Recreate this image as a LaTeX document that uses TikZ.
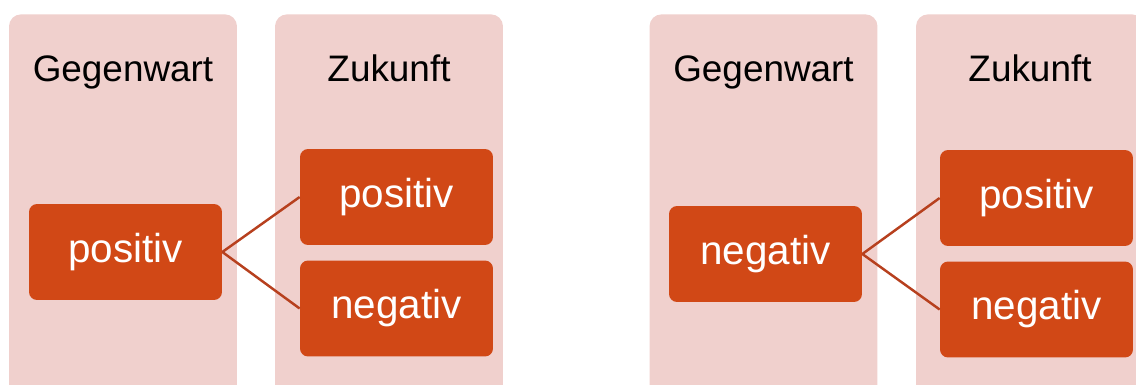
\documentclass[tikz,border=0pt]{standalone}
\usepackage{fontspec}
\setmainfont{Liberation Sans}
\usetikzlibrary{positioning}
\definecolor{panelpink}{RGB}{240,208,205}
\definecolor{boxorange}{RGB}{209,72,22}
\definecolor{linkbrown}{RGB}{183,64,30}

\begin{document}
\begin{tikzpicture}[x=0.02cm,y=-0.02cm]\tikzset{every node/.style={inner sep=0pt}, panel/.style={fill=panelpink, rounded corners=0.24cm, minimum width=4.56cm, minimum height=7.7cm, anchor=north}, title/.style={font=\fontsize{21}{25}\selectfont, anchor=base}, choice/.style={fill=boxorange, text=white, rounded corners=0.16cm, minimum width=3.86cm, minimum height=1.92cm, font=\fontsize{23}{27}\selectfont}, link/.style={draw=linkbrown, line width=1.4pt}}
	\useasboundingbox (0,0) rectangle (1136,385);
	\clip (0,0) rectangle (1136,385);
	% left group
	\node[panel] (p1) at (123,14) {};
	\node[panel] (p2) at (389,14) {};
	\node[title] (t1) at (123,82) {Gegenwart};
	\node[title] (t2) at (389,82) {Zukunft};
	\node[choice] (a0) at (125.5,252) {positiv};
	\node[choice] (a1) at (396.5,197) {positiv};
	\node[choice] (a2) at (396.5,308.5) {negativ};
	\path (a0.east) edge[link] (a1.west);
	\path (a0.east) edge[link] (a2.west);
	% right group
	\node[panel] (p3) at (763.5,14) {};
	\node[panel] (p4) at (1030,14) {};
	\node[title] (t3) at (763.5,82) {Gegenwart};
	\node[title] (t4) at (1030,82) {Zukunft};
	\node[choice] (b0) at (765.5,254) {negativ};
	\node[choice] (b1) at (1036.5,198) {positiv};
	\node[choice] (b2) at (1036.5,309.5) {negativ};
	\path (b0.east) edge[link] (b1.west);
	\path (b0.east) edge[link] (b2.west);
\end{tikzpicture}
\end{document}
